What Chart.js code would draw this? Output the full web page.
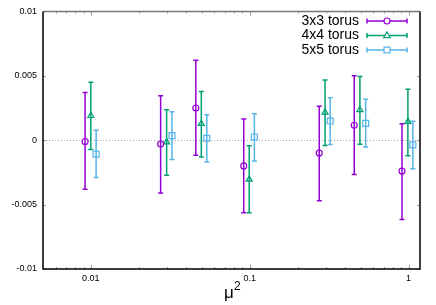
<!DOCTYPE html>
<html>
<head>
<meta charset="utf-8">
<script src="https://cdn.jsdelivr.net/npm/chart.js@4"></script>
<style>
  body { margin: 0; background: #fff; }
  #wrap { width: 436px; height: 305px; }
</style>
</head>
<body>
<div id="wrap"><canvas id="chart" width="436" height="305"></canvas></div>
<script>
// series names and colours
const seriesNames = ['3x3 torus', '4x4 torus', '5x5 torus'];
const seriesColors = ['#9400d3', '#009e73', '#56b4e9'];
const seriesShapes = ['circle', 'triangle', 'rect'];

// 3x3 torus
const mu2_3 = [0.0092, 0.0275, 0.0458, 0.0917, 0.274, 0.455, 0.909];
const val_3 = [-0.0001, -0.0003, 0.0025, -0.0020, -0.0010, 0.00116, -0.0024];
const hi_3 = [0.0037, 0.00345, 0.0062, 0.00164, 0.00263, 0.0050, 0.00128];
const lo_3 = [-0.0038, -0.0041, -0.00116, -0.00564, -0.0047, -0.00266, -0.00616];

// 4x4 torus
const mu2_4 = [0.0100, 0.0300, 0.0496, 0.0993, 0.298, 0.494, 0.990];
const val_4 = [0.0019, -0.00015, 0.00128, -0.00304, 0.00216, 0.00236, 0.00144];
const hi_4 = [0.0045, 0.00237, 0.00378, -0.00044, 0.00468, 0.00494, 0.00396];
const lo_4 = [-0.00073, -0.00273, -0.0013, -0.00564, -0.00042, -0.00031, -0.00121];

// 5x5 torus
const mu2_5 = [0.0108, 0.0324, 0.0537, 0.107, 0.321, 0.537, 1.064];
const val_5 = [-0.00108, 0.00036, 0.00015, 0.00025, 0.00149, 0.00131, -0.00036];
const hi_5 = [0.00077, 0.0022, 0.00198, 0.00205, 0.00329, 0.00317, 0.00147];
const lo_5 = [-0.0029, -0.0015, -0.0017, -0.00162, -0.00034, -0.00052, -0.00222];

// ticks
const xTicks = [0.01, 0.1, 1];
const yTicks = [-0.01, -0.005, 0, 0.005, 0.01];
const xTitle = 'μ';
const xTitleSup = '2';

const xs = [mu2_3, mu2_4, mu2_5];
const ys = [val_3, val_4, val_5];
const his = [hi_3, hi_4, hi_5];
const los = [lo_3, lo_4, lo_5];
const radii = [3, 3.5, 4.2];

const datasets = seriesNames.map((name, i) => ({
    label: name,
    data: xs[i].map((x, j) => ({ x: x, y: ys[i][j] })),
    hi: his[i],
    lo: los[i],
    showLine: false,
    pointStyle: seriesShapes[i],
    pointRadius: radii[i],
    pointBorderWidth: 1.2,
    borderColor: seriesColors[i],
    backgroundColor: 'rgba(0,0,0,0)'
}));

function drawMarker(ctx, shape, x, y, r) {
    ctx.beginPath();
    if (shape === 'circle') {
        ctx.arc(x, y, r, 0, Math.PI * 2);
    } else if (shape === 'triangle') {
        ctx.moveTo(x, y - r);
        ctx.lineTo(x + r * 0.95, y + r * 0.6);
        ctx.lineTo(x - r * 0.95, y + r * 0.6);
        ctx.closePath();
    } else {
        const s = r * Math.SQRT1_2;
        ctx.rect(x - s, y - s, 2 * s, 2 * s);
    }
    ctx.fill();
    ctx.stroke();
}

const gnuplotLook = {
    id: 'gnuplotLook',
    beforeDatasetsDraw(chart) {
        const ctx = chart.ctx;
        const a = chart.chartArea;
        const xs = chart.scales.x, ys = chart.scales.y;
        ctx.save();
        // dotted zero line
        ctx.strokeStyle = '#aaa';
        ctx.lineWidth = 1;
        ctx.setLineDash([1, 2]);
        const y0 = Math.round(ys.getPixelForValue(0)) + 0.5;
        ctx.beginPath();
        ctx.moveTo(a.left, y0);
        ctx.lineTo(a.right, y0);
        ctx.stroke();
        ctx.setLineDash([]);
        // error bars
        chart.data.datasets.forEach((ds, i) => {
            ctx.strokeStyle = seriesColors[i];
            ctx.lineWidth = 1.5;
            ds.data.forEach((p, j) => {
                const px = xs.getPixelForValue(p.x);
                const top = ys.getPixelForValue(ds.hi[j]);
                const bot = ys.getPixelForValue(ds.lo[j]);
                ctx.beginPath();
                ctx.moveTo(px, top);
                ctx.lineTo(px, bot);
                ctx.moveTo(px - 2.5, top);
                ctx.lineTo(px + 2.5, top);
                ctx.moveTo(px - 2.5, bot);
                ctx.lineTo(px + 2.5, bot);
                ctx.stroke();
            });
        });
        ctx.restore();
    },
    afterDraw(chart) {
        const ctx = chart.ctx;
        const a = chart.chartArea;
        const xs = chart.scales.x, ys = chart.scales.y;
        ctx.save();
        // inward tick marks
        ctx.strokeStyle = '#999';
        ctx.lineWidth = 1;
        ctx.beginPath();
        for (let d = -3; d <= 0; d++) {
            for (let m = 1; m <= 9; m++) {
                const v = m * Math.pow(10, d);
                if (v < xs.min || v > xs.max) continue;
                const px = Math.round(xs.getPixelForValue(v)) + 0.5;
                const len = m === 1 ? 4 : 2;
                ctx.moveTo(px, a.bottom);
                ctx.lineTo(px, a.bottom - len);
                ctx.moveTo(px, a.top);
                ctx.lineTo(px, a.top + len);
            }
        }
        yTicks.forEach(v => {
            const py = Math.round(ys.getPixelForValue(v)) + 0.5;
            ctx.moveTo(a.left, py);
            ctx.lineTo(a.left + 3, py);
            ctx.moveTo(a.right, py);
            ctx.lineTo(a.right - 3, py);
        });
        ctx.stroke();
        // frame
        ctx.lineWidth = 1.5;
        ctx.strokeStyle = '#777';
        ctx.beginPath();
        ctx.moveTo(a.left, a.top);
        ctx.lineTo(a.right, a.top);
        ctx.stroke();
        ctx.strokeStyle = '#000';
        ctx.beginPath();
        ctx.moveTo(a.right, a.top);
        ctx.lineTo(a.right, a.bottom);
        ctx.lineTo(a.left, a.bottom);
        ctx.lineTo(a.left, a.top);
        ctx.stroke();
        // axis title
        ctx.fillStyle = '#000';
        ctx.textBaseline = 'alphabetic';
        ctx.textAlign = 'left';
        ctx.font = '17px "Liberation Sans", Arial, sans-serif';
        ctx.fillText(xTitle, 224, 298);
        ctx.font = '12px "Liberation Sans", Arial, sans-serif';
        ctx.fillText(xTitleSup, 234, 290);
        // legend
        ctx.font = '14px "Liberation Sans", Arial, sans-serif';
        ctx.textAlign = 'right';
        ctx.textBaseline = 'middle';
        seriesNames.forEach((name, i) => {
            const yy = 21 + i * 14.5;
            ctx.fillStyle = '#000';
            ctx.fillText(name, 359, yy);
            ctx.strokeStyle = seriesColors[i];
            ctx.lineWidth = 1.5;
            ctx.beginPath();
            ctx.moveTo(367, yy);
            ctx.lineTo(407, yy);
            ctx.moveTo(367, yy - 2.5);
            ctx.lineTo(367, yy + 2.5);
            ctx.moveTo(407, yy - 2.5);
            ctx.lineTo(407, yy + 2.5);
            ctx.stroke();
            ctx.fillStyle = '#fff';
            ctx.lineWidth = 1.2;
            drawMarker(ctx, seriesShapes[i], 387, yy, radii[i]);
        });
        ctx.restore();
    }
};

const ctx = document.getElementById('chart').getContext('2d');
const chart = new Chart(ctx, {
    type: 'scatter',
    data: { datasets: datasets },
    options: {
        responsive: false,
        animation: false,
        layout: { padding: { top: 10, right: 16, left: 0, bottom: 0 } },
        plugins: {
            legend: { display: false },
            tooltip: { enabled: false }
        },
        scales: {
            x: {
                type: 'logarithmic',
                min: 0.005,
                max: 1.18,
                grid: { display: false, drawTicks: false },
                border: { display: false },
                afterBuildTicks: (scale) => {
                    scale.ticks = xTicks.map(v => ({ value: v }));
                },
                afterFit: (scale) => { scale.height = 36; },
                ticks: {
                    autoSkip: false,
                    maxRotation: 0,
                    padding: 4,
                    color: '#000',
                    font: { family: '"Liberation Sans", Arial, sans-serif', size: 9 },
                    callback: (v) => String(v)
                }
            },
            y: {
                min: -0.01,
                max: 0.01,
                grid: { display: false, drawTicks: false },
                border: { display: false },
                afterBuildTicks: (scale) => {
                    scale.ticks = yTicks.map(v => ({ value: v }));
                },
                afterFit: (scale) => { scale.width = 43; },
                ticks: {
                    padding: 6,
                    color: '#000',
                    font: { family: '"Liberation Sans", Arial, sans-serif', size: 9 },
                    callback: (v) => v === 0 ? '0' : String(+v.toFixed(3))
                }
            }
        }
    },
    plugins: [gnuplotLook]
});
</script>
</body>
</html>
